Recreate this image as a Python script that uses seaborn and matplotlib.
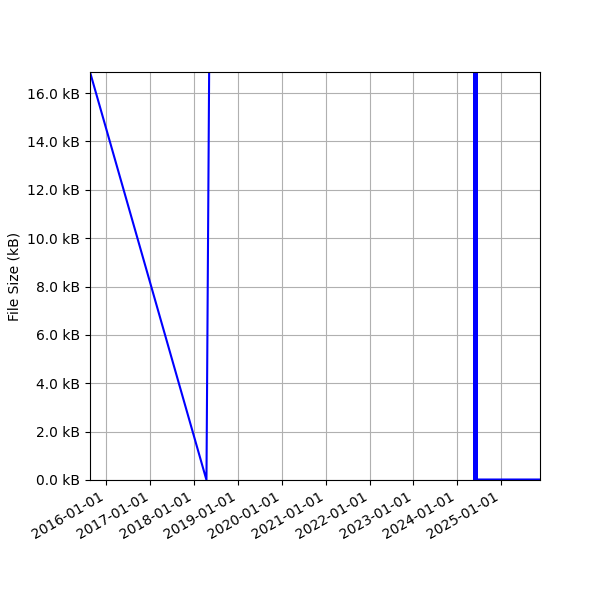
import matplotlib
matplotlib.use("Agg")
import matplotlib.pyplot as plt
import matplotlib.dates as mdates
from matplotlib.ticker import FuncFormatter
import pandas as pd
import seaborn as sns

# Data (file size in kB over time)
dates = [
    "2015-08-17", "2018-04-13", "2018-05-20",
    "2024-05-17", "2024-05-20", "2024-05-23", "2024-05-26", "2024-05-29",
    "2024-06-01", "2024-06-04", "2024-06-07", "2024-06-10", "2024-06-13",
    "2025-11-20",
]
sizes_kb = [
    16.87, 0.0, 28.0,
    900.0, 0.02, 900.0, 0.02, 900.0,
    0.02, 900.0, 0.02, 900.0, 0.02,
    0.02,
]
y_max_kb = 16.87

df = pd.DataFrame({"date": pd.to_datetime(dates), "size": sizes_kb})

fig, ax = plt.subplots(figsize=(6, 6), dpi=100)
sns.lineplot(data=df, x="date", y="size", color="blue", linewidth=1.5,
             sort=False, estimator=None, ax=ax)

ax.set_xlim(df["date"].min(), df["date"].max())
ax.set_ylim(0, y_max_kb)
ax.yaxis.set_major_formatter(FuncFormatter(lambda v, p: f"{v:.1f} kB"))
ax.xaxis.set_major_locator(mdates.YearLocator())
ax.xaxis.set_major_formatter(mdates.DateFormatter("%Y-%m-%d"))
ax.set_xlabel("")
ax.set_ylabel("File Size (kB)")
ax.grid(True)
fig.autofmt_xdate()
fig.subplots_adjust(left=0.15, right=0.9, top=0.88, bottom=0.2)
fig.savefig("out.png", dpi=100)
